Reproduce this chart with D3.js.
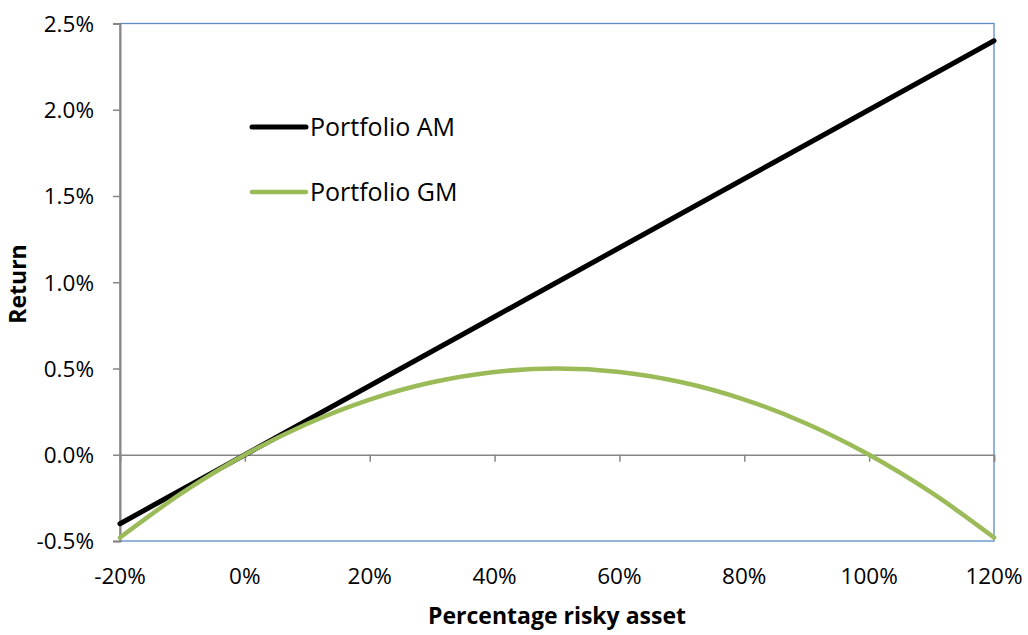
<!DOCTYPE html>
<html><head><meta charset="utf-8">
<script src="https://cdn.jsdelivr.net/npm/d3@7"></script>
<style>body{margin:0;background:#fff}svg{display:block}text{font-family:"Open Sans","Noto Sans",sans-serif}</style>
</head><body><svg id="c" width="1028" height="635"></svg>
<script>
const weights = [-0.2,-0.1,0,0.1,0.2,0.3,0.4,0.5,0.6,0.7,0.8,0.9,1.0,1.1,1.2];
const amReturns = [-0.004,-0.002,0,0.002,0.004,0.006,0.008,0.010,0.012,0.014,0.016,0.018,0.020,0.022,0.024];
const gmReturns = [-0.0048,-0.0022,0,0.0018,0.0032,0.0042,0.0048,0.0050,0.0048,0.0042,0.0032,0.0018,0,-0.0022,-0.0048];
const xTicks = [-0.2,0,0.2,0.4,0.6,0.8,1.0,1.2];
const yTicks = [-0.005,0,0.005,0.010,0.015,0.020,0.025];
const seriesNames = ["Portfolio AM","Portfolio GM"];
const colors = ["#000000","#9BBB59"];

const svg = d3.select("#c");
const L=120,R=994,T=23.5,B=541;
const x = d3.scaleLinear().domain([-0.2,1.2]).range([L,R]);
const y = d3.scaleLinear().domain([-0.005,0.025]).range([B,T]);
const fy = d => d3.format(".1%")(d).replace("\u2212","-");
const fx = d => d3.format(".0%")(d).replace("\u2212","-");

// plot border
svg.append("rect").attr("x",L).attr("y",T).attr("width",R-L).attr("height",B-T)
  .attr("fill","none").attr("stroke","#5B8BC9").attr("stroke-width",1.3);

// y axis
const yAx = svg.append("g").attr("transform",`translate(${L},0)`)
  .call(d3.axisLeft(y).tickValues(yTicks).tickSize(7).tickPadding(19).tickFormat(fy));
yAx.select(".domain").attr("stroke","#868686").attr("stroke-width",2);
yAx.selectAll(".tick line").attr("stroke","#868686").attr("stroke-width",1.5);
yAx.selectAll("text").attr("font-size",22.5).attr("fill","#000").attr("dy","0.35em");

// x axis at zero
const xAx = svg.append("g").attr("transform",`translate(0,${y(0)})`)
  .call(d3.axisBottom(x).tickValues(xTicks).tickSize(7).tickFormat(""));
xAx.select(".domain").attr("stroke","#868686").attr("stroke-width",1.5);
xAx.selectAll(".tick line").attr("stroke","#868686").attr("stroke-width",1.5);
// x tick labels at bottom
svg.append("g").selectAll("text").data(xTicks).join("text")
  .attr("x",d=>x(d)).attr("y",584).attr("text-anchor","middle")
  .attr("font-size",22.5).text(fx);

// lines
const line = d3.line().x((d,i)=>x(weights[i])).y(d=>y(d)).curve(d3.curveCatmullRom);
const data = [amReturns,gmReturns];
svg.append("g").selectAll("path").data(data).join("path")
  .attr("d",line).attr("fill","none")
  .attr("stroke",(d,i)=>colors[i]).attr("stroke-width",(d,i)=>i==0?5:4.5)
  .attr("stroke-linejoin","round").attr("stroke-linecap","round");

// legend
const lg = svg.append("g");
seriesNames.forEach((n,i)=>{
  const yy = 127 + i*65;
  lg.append("line").attr("x1",252).attr("x2",306).attr("y1",yy).attr("y2",yy)
    .attr("stroke",colors[i]).attr("stroke-width",i==0?5:4.5).attr("stroke-linecap","round");
  lg.append("text").attr("x",310).attr("y",yy).attr("dy","0.36em").attr("font-size",25).text(n);
});

// axis titles
svg.append("text").attr("x",557).attr("y",624).attr("text-anchor","middle")
  .attr("font-size",23).attr("font-weight","bold").text("Percentage risky asset");
svg.append("text").attr("transform","translate(26,284) rotate(-90)").attr("text-anchor","middle")
  .attr("font-size",23).attr("font-weight","bold").text("Return");
</script></body></html>
